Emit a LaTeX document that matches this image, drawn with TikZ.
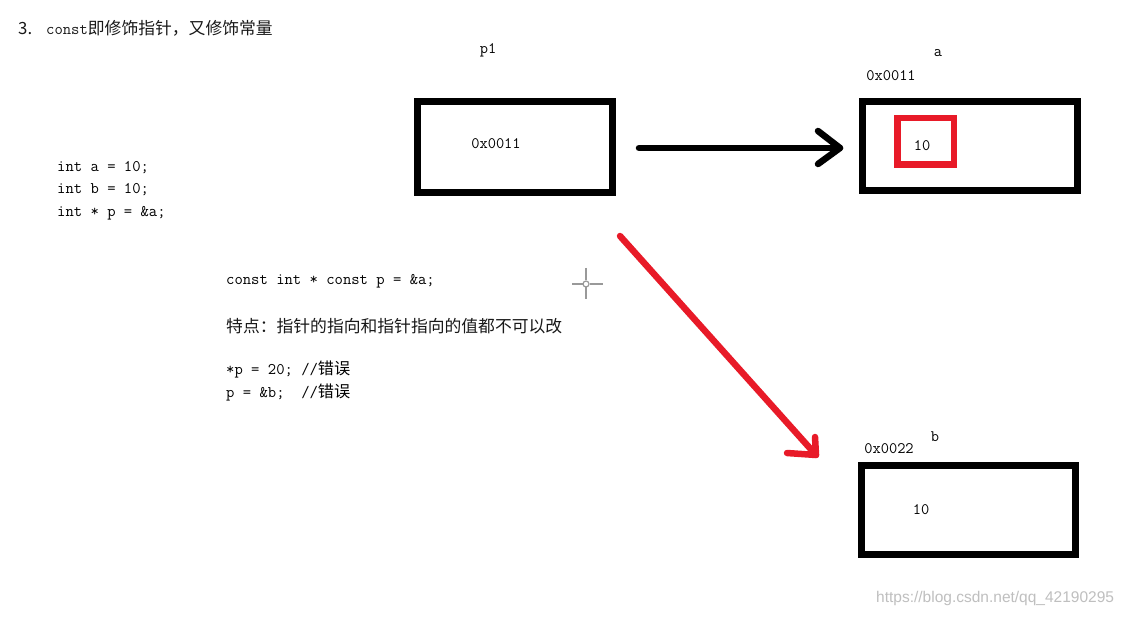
\documentclass[tikz,border=0pt]{standalone}
\usepackage{fontspec}
\setsansfont{Liberation Sans}
\newfontfamily\cjk{Noto Sans CJK SC}
\usetikzlibrary{arrows.meta}
\definecolor{redmark}{RGB}{232,26,40}
\tikzset{
  membox/.style={draw=black, line width=7pt, rectangle, inner sep=0pt},
  redbox/.style={draw=redmark, line width=6.5pt, rectangle, inner sep=0pt},
  code/.style={font=\fontsize{16.2}{19}\selectfont\ttfamily, inner sep=0pt, anchor=west, text=black},
  cn/.style={font=\fontsize{16.8}{19}\selectfont\cjk, inner sep=0pt, anchor=west, text=black!90},
  lbl/.style={font=\fontsize{16}{18}\selectfont\ttfamily, inner sep=0pt, text=black},
  blackarrow/.style={draw=black, line width=6.5pt, line cap=round, line join=round},
  redarrow/.style={draw=redmark, line width=6.5pt, line cap=round, line join=round},
}
\begin{document}
\begin{tikzpicture}[x=1pt,y=-1pt]
\useasboundingbox[fill=white] (0,0) rectangle (1129,617);

% title
\node[cn] (title) at (18,28) {3.\hspace{14pt}{\fontsize{16.2}{18}\selectfont\ttfamily const}即修饰指针，又修饰常量};

% left code
\node[code] (c1) at (57,168) {int a = 10;};
\node[code] (c2) at (57,190) {int b = 10;};
\node[code] (c3) at (57,213) {int * p = \&a;};

% middle code
\node[code] (c4) at (226,281) {const int * const p = \&a;};
\node[cn] (c5) at (226,326) {特点：指针的指向和指针指向的值都不可以改};
\node[code] (c6) at (226,369) {*p = 20;\ //{\cjk 错误}};
\node[code] (c7) at (226,392) {p = \&b;\ \ //{\cjk 错误}};

% boxes
\node[membox, minimum width=194.5pt, minimum height=91.5pt] (p1) at (514.75,147.25) {};
\node[lbl] (p1v) at (496,144) {0x0011};
\node[lbl] (p1n) at (488,50) {p1};

\node[membox, minimum width=214.5pt, minimum height=89.5pt] (a) at (969.75,146.25) {};
\node[redbox, minimum width=56.5pt, minimum height=46.5pt] (ar) at (925.75,141.25) {};
\node[lbl] (av) at (922,146) {10};
\node[lbl] (aaddr) at (891,76) {0x0011};
\node[lbl] (an) at (938,53) {a};

\node[membox, minimum width=214.5pt, minimum height=88.5pt] (b) at (968.25,509.75) {};
\node[lbl] (bv) at (921,510) {10};
\node[lbl] (baddr) at (889,449) {0x0022};
\node[lbl] (bn) at (935,437) {b};

% black arrow p1 -> a
\coordinate (bs) at (639,148);
\coordinate (bt) at (840,148);
\draw[blackarrow] (bs) -- (bt);
\draw[blackarrow] (818,131) -- (bt) -- (818,164);

% red arrow
\coordinate (rs) at (620,236);
\coordinate (rt) at (816,455);
\draw[redarrow] (rs) -- (rt);
\draw[redarrow] (787,453) -- (rt) -- (815,437);

% cursor
\draw[gray!80, line width=1.6pt] (572,284) -- (582.5,284) (589.5,284) -- (603,284)
  (586,268) -- (586,280.5) (586,287.5) -- (586,299);
\draw[gray!80, line width=1.2pt] (586,284) circle (3pt);

% watermark
\node[font=\fontsize{15.5}{18}\selectfont\sffamily, text=black!25, inner sep=0pt, anchor=west] (wm) at (876,598) {https://blog.csdn.net/qq\_42190295};
\end{tikzpicture}
\end{document}
